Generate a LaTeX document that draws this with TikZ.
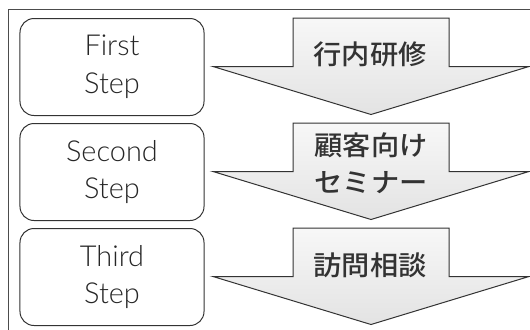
\documentclass[tikz,border=0pt]{standalone}
\usepackage{fontspec}
\newfontfamily\stepfont{Lato Light}
\newfontfamily\jpfont[FakeStretch=1.05]{Noto Sans CJK JP Medium}
\begin{document}
\begin{tikzpicture}[x=1bp,y=-1bp,
  stepbox/.style={draw=black!80,line width=1bp,rounded corners=14bp,minimum width=184bp,minimum height=97bp,
    align=center,font=\stepfont\fontsize{29}{38}\selectfont,text=black!85,inner sep=0pt},
  arrowstyle/.style={draw=black!80,line width=1bp,top color=gray!6,bottom color=gray!22,line join=miter},
  jptext/.style={font=\jpfont\fontsize{27}{37}\selectfont,text=black!80,align=center,inner sep=0pt},
  darrow/.pic={\path[arrowstyle] (-78,0) -- (78,0) -- (78,48.5) -- (158,48.5) -- (0,96.5) -- (-158,48.5) -- (-78,48.5) -- cycle;}
]
\useasboundingbox (0,0) rectangle (530,329);
% frame
\coordinate (fbl) at (8,330);
\coordinate (ftl) at (8,9);
\coordinate (ftr) at (531,9);
\draw[black!70,line width=0.9bp] (fbl) -- (ftl) -- (ftr);
% step boxes
\node[stepbox] (s1) at (112,67) {First\\Step};
\node[stepbox] (s2) at (112,172) {Second\\Step};
\node[stepbox] (s3) at (112,277) {Third\\Step};
% arrows
\pic (a1) at (371,18) {darrow};
\pic (a2) at (371,123) {darrow};
\pic (a3) at (371,228) {darrow};
% texts
\node[jptext] (t1) at (370,54) {行内研修};
\node[jptext] (t2) at (371,163) {顧客向け\\セミナー};
\node[jptext] (t3) at (370,265) {訪問相談};
\end{tikzpicture}
\end{document}
